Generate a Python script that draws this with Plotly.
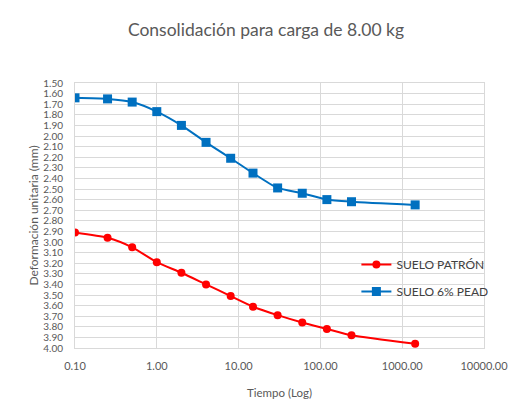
import plotly.graph_objects as go

tiempo = [0.1, 0.25, 0.5, 1, 2, 4, 8, 15, 30, 60, 120, 240, 1440]
suelo_patron = [2.91, 2.96, 3.05, 3.19, 3.29, 3.40, 3.51, 3.61, 3.69, 3.76, 3.82, 3.88, 3.96]
suelo_pead = [1.64, 1.65, 1.68, 1.77, 1.90, 2.06, 2.21, 2.35, 2.49, 2.54, 2.60, 2.62, 2.65]
x_tickvals = [0.1, 1, 10, 100, 1000, 10000]
x_ticktext = ["0.10", "1.00", "10.00", "100.00", "1000.00", "10000.00"]

FONT = "Lato, 'Open Sans', sans-serif"
GRAY = "#595959"

fig = go.Figure()
fig.add_trace(go.Scatter(
    x=tiempo, y=suelo_patron, name="SUELO PATRÓN", mode="lines+markers",
    legendgroup="a",
    line=dict(color="#ff0000", width=2, shape="spline", smoothing=0.6),
    marker=dict(symbol="circle", size=8, color="#ff0000")))
fig.add_trace(go.Scatter(
    x=tiempo, y=suelo_pead, name="SUELO 6% PEAD", mode="lines+markers",
    legendgroup="b",
    line=dict(color="#0070c0", width=2, shape="spline", smoothing=0.6),
    marker=dict(symbol="square", size=9, color="#0070c0")))

fig.update_layout(
    width=516, height=404,
    margin=dict(l=67, r=40, t=75, b=64),
    paper_bgcolor="white", plot_bgcolor="white",
    font=dict(family=FONT, color=GRAY, size=11),
    title=dict(text="Consolidación para carga de 8.00 kg", x=0.5, xanchor="center",
               y=0.946, yanchor="middle", font=dict(size=17.5, color=GRAY, family=FONT)),
    legend=dict(x=0.688, y=0.37, xanchor="left", yanchor="top",
                bgcolor="rgba(0,0,0,0)", font=dict(size=12, color="#404040", family=FONT),
                itemwidth=30, traceorder="grouped", tracegroupgap=8),
    showlegend=True,
)
fig.update_xaxes(
    type="log", range=[-1, 4], tickvals=x_tickvals, ticktext=x_ticktext,
    showgrid=True, gridcolor="#d9d9d9", gridwidth=1, automargin=False,
    showline=True, linecolor="#d9d9d9", mirror=True, zeroline=False,
    ticks="outside", ticklen=8, tickcolor="rgba(0,0,0,0)", tickfont=dict(size=11, color=GRAY),
    title=dict(text="Tiempo (Log)", font=dict(size=11.5, color=GRAY), standoff=17))
fig.update_yaxes(
    range=[4.0, 1.5], dtick=0.1, tick0=1.5, tickformat=".2f",
    showgrid=True, gridcolor="#d9d9d9", gridwidth=1, automargin=False,
    showline=True, linecolor="#d9d9d9", mirror=True, zeroline=False,
    ticks="outside", ticklen=9, tickcolor="rgba(0,0,0,0)", tickfont=dict(size=10, color=GRAY),
    title=dict(text="Deformación unitaria (mm)", font=dict(size=12, color=GRAY), standoff=2))

fig.write_html("out.html")
